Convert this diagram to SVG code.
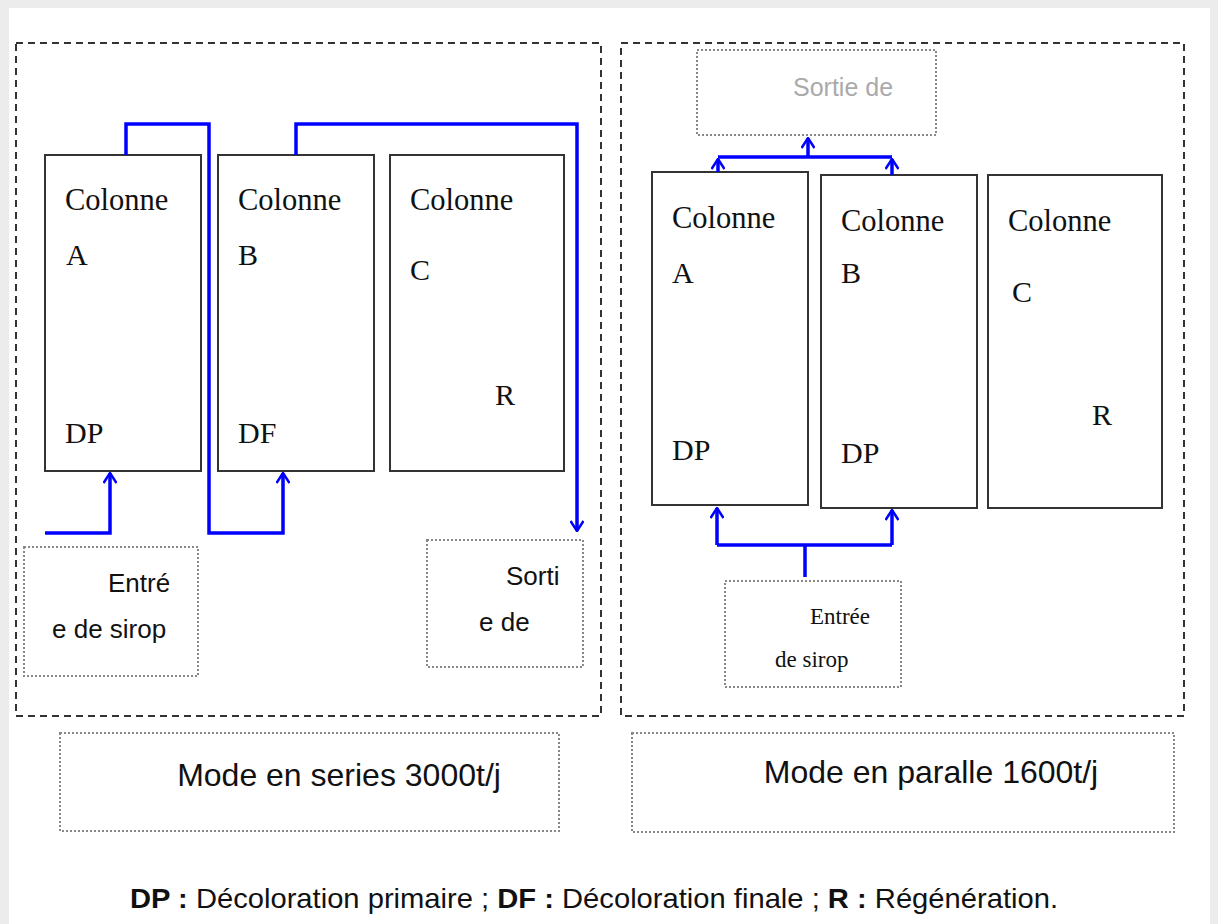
<svg xmlns="http://www.w3.org/2000/svg" width="1218" height="924" viewBox="0 0 1218 924">
<style>
.frame{fill:none;stroke:#333;stroke-width:2;stroke-dasharray:7 5}
.dot{fill:none;stroke:#888;stroke-width:2;stroke-dasharray:2 2}
.col{fill:#fff;stroke:#333;stroke-width:2}
.serif{font-family:"Liberation Serif","Times New Roman",serif;fill:#111}
.sans{font-family:"Liberation Sans",Arial,sans-serif;fill:#111}
.flow{fill:none;stroke:#0000ff;stroke-width:3.5;stroke-linejoin:miter}
</style>
<defs>
<marker id="arr" viewBox="0 0 12 14" refX="11" refY="7" markerWidth="12" markerHeight="14" markerUnits="userSpaceOnUse" orient="auto">
<path d="M1,0.5 L11,7 L1,13.5" fill="none" stroke="#0000ff" stroke-width="2.5"/>
</marker>
</defs>
<rect x="0" y="0" width="1218" height="924" fill="#ececec"/>
<rect x="9" y="8" width="1201" height="916" fill="#fff"/>

<g id="panel-series">
<rect class="frame" x="16" y="43" width="585" height="673"/>
</g>
<g id="panel-parallel">
<rect class="frame" x="621" y="43" width="563" height="673"/>
</g>

<g id="col-A-left">
<rect class="col" x="45" y="155" width="156" height="316"/>
<text class="serif" x="65" y="210" font-size="30.5">Colonne</text>
<text class="serif" x="66" y="265" font-size="30">A</text>
<text class="serif" x="65" y="443" font-size="30">DP</text>
</g>
<g id="col-B-left">
<rect class="col" x="218" y="155" width="156" height="316"/>
<text class="serif" x="238" y="210" font-size="30.5">Colonne</text>
<text class="serif" x="238" y="265" font-size="30">B</text>
<text class="serif" x="238" y="443" font-size="30">DF</text>
</g>
<g id="col-C-left">
<rect class="col" x="390" y="155" width="174" height="316"/>
<text class="serif" x="410" y="210" font-size="30.5">Colonne</text>
<text class="serif" x="410" y="280" font-size="30">C</text>
<text class="serif" x="495" y="405" font-size="30">R</text>
</g>
<g id="entree-left">
<rect class="dot" x="24" y="547" width="174" height="129"/>
<text class="sans" x="108" y="592" font-size="26">Entré</text>
<text class="sans" x="52" y="638" font-size="26">e de sirop</text>
</g>
<g id="sortie-left">
<rect class="dot" x="427" y="540" width="156" height="127"/>
<text class="sans" x="506" y="585" font-size="26">Sorti</text>
<text class="sans" x="479" y="631" font-size="26">e de</text>
</g>

<g id="col-A-right">
<rect class="col" x="652" y="172" width="156" height="333"/>
<text class="serif" x="672" y="228" font-size="30.5">Colonne</text>
<text class="serif" x="672" y="283" font-size="30">A</text>
<text class="serif" x="672" y="460" font-size="30">DP</text>
</g>
<g id="col-B-right">
<rect class="col" x="821" y="175" width="156" height="333"/>
<text class="serif" x="841" y="231" font-size="30.5">Colonne</text>
<text class="serif" x="841" y="283" font-size="30">B</text>
<text class="serif" x="841" y="463" font-size="30">DP</text>
</g>
<g id="col-C-right">
<rect class="col" x="988" y="175" width="174" height="333"/>
<text class="serif" x="1008" y="231" font-size="30.5">Colonne</text>
<text class="serif" x="1012" y="302" font-size="30">C</text>
<text class="serif" x="1092" y="425" font-size="30">R</text>
</g>
<g id="sortie-right">
<rect class="dot" x="697" y="50" width="239" height="85"/>
<text class="sans" x="793" y="96" font-size="25" style="fill:#aaa">Sortie de</text>
</g>
<g id="entree-right">
<rect class="dot" x="725" y="581" width="176" height="106"/>
<text class="serif" x="810" y="624" font-size="23">Entrée</text>
<text class="serif" x="775" y="667" font-size="23">de sirop</text>
</g>

<g id="label-series">
<rect class="dot" x="60" y="733" width="499" height="98"/>
<text class="sans" x="339" y="786" font-size="32" text-anchor="middle">Mode en series 3000t/j</text>
</g>
<g id="label-parallel">
<rect class="dot" x="632" y="733" width="542" height="99"/>
<text class="sans" x="931" y="783" font-size="32" text-anchor="middle">Mode en paralle 1600t/j</text>
</g>
<g id="legend">
<text class="sans" x="130" y="908" font-size="28" textLength="928" lengthAdjust="spacingAndGlyphs"><tspan font-weight="bold">DP :</tspan> Décoloration primaire ; <tspan font-weight="bold">DF :</tspan> Décoloration finale ; <tspan font-weight="bold">R :</tspan> Régénération.</text>
</g>

<g id="connectors">
<path class="flow" d="M45,533 H110 V473" marker-end="url(#arr)"/>
<path class="flow" d="M126,155 V124 H209 V533 H283 V473" marker-end="url(#arr)"/>
<path class="flow" d="M296,155 V124 H577 V531" marker-end="url(#arr)"/>
<path class="flow" d="M718,172 V159" marker-end="url(#arr)"/>
<path class="flow" d="M892,175 V159" marker-end="url(#arr)"/>
<path class="flow" d="M718,157 H892"/>
<path class="flow" d="M808,157 V138" marker-end="url(#arr)"/>
<path class="flow" d="M805,577 V545"/>
<path class="flow" d="M717,545 H892"/>
<path class="flow" d="M717,545 V508" marker-end="url(#arr)"/>
<path class="flow" d="M892,545 V510" marker-end="url(#arr)"/>
</g>
</svg>
